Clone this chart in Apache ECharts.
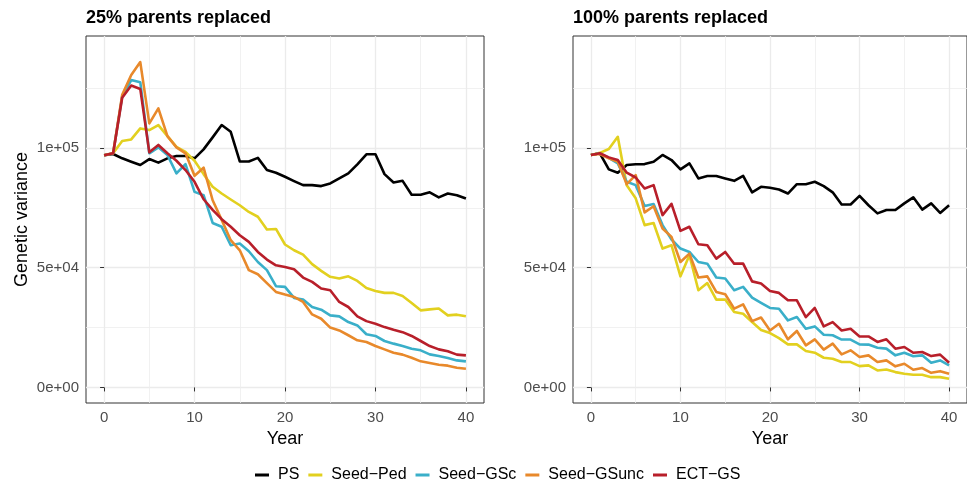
<!DOCTYPE html>
<html><head><meta charset="utf-8">
<script src="https://cdn.jsdelivr.net/npm/echarts@6/dist/echarts.min.js"></script>
<style>html,body{margin:0;padding:0;background:#fff}#c{width:967px;height:484px}</style>
</head><body><div id="c"></div>
<script>
const years = [0,1,2,3,4,5,6,7,8,9,10,11,12,13,14,15,16,17,18,19,20,21,22,23,24,25,26,27,28,29,30,31,32,33,34,35,36,37,38,39,40];
const seriesNames = ['PS', 'Seed\u2212Ped', 'Seed\u2212GSc', 'Seed\u2212GSunc', 'ECT\u2212GS'];
const panelTitles = ['25% parents replaced', '100% parents replaced'];
const xTickValues = [0, 10, 20, 30, 40];
const xMinorValues = [5, 15, 25, 35];
const yTickValues = [0, 50000, 100000];
const yTickLabels = ['0e+00', '5e+04', '1e+05'];
const yMinorValues = [25000, 75000, 125000];

// 25% parents replaced
const ps25 = [97000,97500,95700,94300,92900,95400,93900,95700,96650,96650,95700,99450,104460,109600,106800,94400,94400,95900,90800,89700,88000,86200,84500,84500,84100,85200,87300,89400,93200,97400,97400,89100,85600,86300,80500,80500,81500,79400,81000,80300,78900];
const ped25 = [97000,97800,102900,103600,108200,107500,109600,105000,100500,98400,94700,89100,83800,81000,78500,76100,73300,71300,66000,66200,59700,57300,55500,51500,48700,46200,45500,46400,44500,41500,40300,39500,39500,38200,35300,32200,32600,33000,30100,30400,29700];
const gsc25 = [97000,97800,121500,128400,127500,97800,100300,97100,89400,93300,81700,80300,68700,67100,59400,60100,56900,52400,49000,42300,42000,37400,36700,33600,32500,30100,29700,27300,25900,22200,21500,19400,18300,17300,16200,15500,13800,13100,12300,11300,10900];
const unc25 = [97000,97800,122200,130500,135900,110300,116600,105000,100300,97800,88400,91800,78200,70000,61500,57300,49000,47300,43600,39900,38800,37800,35700,30500,28700,25000,23800,21800,19700,19000,17300,15900,14500,13700,12400,10900,10200,9500,9100,8200,7800];
const ect25 = [97000,97800,121000,126100,124700,98200,101300,97800,94700,90800,85900,78600,74200,70300,67100,63600,60800,56600,53400,51000,50300,49400,45900,44100,41300,40600,35700,33600,29700,27700,26600,25200,24100,23100,21500,19400,17300,15900,15100,13700,13400];

// 100% parents replaced
const ps100 = [97100,97800,91100,89700,92900,93200,93300,94300,97100,95000,91100,93600,87300,88300,88300,87300,86300,88400,81500,83800,83400,82700,81000,84900,84900,85900,84100,81500,76400,76400,80000,76100,72700,74100,74100,76900,79400,74300,76900,72900,76100];
const ped100 = [97100,98000,99600,104700,84500,79000,67800,68700,58000,59400,46400,55200,40600,43600,36700,36700,31500,30800,27300,24000,22700,20600,18000,18000,15200,14500,12400,12000,10600,10600,8900,9200,7100,7500,6400,5700,5300,5300,4300,4300,3600];
const gsc100 = [97100,97800,95900,93600,85900,84500,75800,76600,67800,61800,58000,56600,52400,51700,45900,45500,40600,42000,37500,35300,33200,32900,28000,29400,24500,25500,22000,21800,20000,20000,18000,17900,16600,16200,13400,14500,13000,13400,10300,11300,9200];
const unc100 = [97100,97500,95700,94300,84900,88700,73100,75700,66400,62900,52400,55900,45900,46400,39900,38900,32900,34700,27700,29200,23800,26600,20100,23600,17600,20100,15800,18300,13800,15500,12700,13400,10600,11300,8800,9900,7400,8100,6100,6800,5700];
const ect100 = [97100,97800,96100,95000,89700,87700,83100,84500,72000,76700,65400,67100,59800,59400,53800,56600,51700,51700,44300,43400,40300,39500,36400,36400,29400,33200,25500,27300,23800,24500,21300,21300,19000,20100,16200,16900,14500,14800,13100,13700,10300];

const colors = ['#000000', '#E2D01F', '#3AAFC9', '#E8892B', '#B81F2A'];
const FONT = "'Liberation Sans', Arial, Helvetica, sans-serif";
const panels = [[ps25, ped25, gsc25, unc25, ect25], [ps100, ped100, gsc100, unc100, ect100]];
const gridLefts = [86, 573];
const Y_MIN = -6500, Y_MAX = 146800, X_MIN = -2, X_MAX = 42;

const grids = [], xAxes = [], yAxes = [], series = [], titles = [];
panels.forEach((p, gi) => {
  grids.push({left: gridLefts[gi], top: 36, width: 398, height: 367, show: true,
    backgroundColor: '#fff', borderColor: '#333333', borderWidth: 1, containLabel: false});
  titles.push({text: panelTitles[gi], left: gridLefts[gi] - 5, top: 4,
    textStyle: {fontFamily: FONT, fontSize: 18, fontWeight: 'bold', color: '#000'}});
  // minor x
  xAxes.push({type: 'value', gridIndex: gi, position: 'top', min: X_MIN, max: X_MAX,
    axisLine: {show: false}, axisLabel: {show: false},
    axisTick: {show: false, customValues: xMinorValues},
    splitLine: {show: true, lineStyle: {color: '#EDEDED', width: 0.8}}});
  // major x
  xAxes.push({type: 'value', gridIndex: gi, position: 'bottom', min: X_MIN, max: X_MAX,
    name: 'Year', nameLocation: 'middle', nameGap: 24,
    nameTextStyle: {fontFamily: FONT, fontSize: 18, color: '#000'},
    axisLine: {show: false},
    axisTick: {show: true, length: 4, customValues: xTickValues, lineStyle: {color: '#333333', width: 1}},
    axisLabel: {show: true, customValues: xTickValues, margin: 7, fontFamily: FONT, fontSize: 15, color: '#4D4D4D'},
    splitLine: {show: true, lineStyle: {color: '#EBEBEB', width: 1.3}}});
  // minor y
  yAxes.push({type: 'value', gridIndex: gi, position: 'right', min: Y_MIN, max: Y_MAX,
    axisLine: {show: false}, axisLabel: {show: false},
    axisTick: {show: false, customValues: yMinorValues},
    splitLine: {show: true, lineStyle: {color: '#EDEDED', width: 0.8}}});
  // major y
  yAxes.push({type: 'value', gridIndex: gi, position: 'left', min: Y_MIN, max: Y_MAX,
    name: gi === 0 ? 'Genetic variance' : '', nameLocation: 'middle', nameGap: 55, nameRotate: 90,
    nameTextStyle: {fontFamily: FONT, fontSize: 18, color: '#000'},
    axisLine: {show: false},
    axisTick: {show: true, length: 4, customValues: yTickValues, lineStyle: {color: '#333333', width: 1}},
    axisLabel: {show: true, customValues: yTickValues, margin: 7, fontFamily: FONT, fontSize: 15, color: '#4D4D4D',
      formatter: v => { const i = yTickValues.indexOf(v); return i >= 0 ? yTickLabels[i] : ''; }},
    splitLine: {show: true, lineStyle: {color: '#EBEBEB', width: 1.3}}});
  p.forEach((vals, si) => {
    series.push({type: 'line', name: seriesNames[si], xAxisIndex: gi * 2 + 1, yAxisIndex: gi * 2 + 1,
      data: years.map((y, k) => [y, vals[k]]), showSymbol: false, symbol: 'none',
      lineStyle: {color: colors[si], width: 2.6, join: 'round'}, itemStyle: {color: colors[si]},
      z: 3 + si, animation: false});
  });
});

const chart = echarts.init(document.getElementById('c'), null, {renderer: 'canvas'});
chart.setOption({
  backgroundColor: '#fff',
  animation: false,
  title: titles,
  grid: grids,
  xAxis: xAxes,
  yAxis: yAxes,
  legend: {data: seriesNames, left: 250, top: 462, icon: 'rect', itemWidth: 14, itemHeight: 3, itemGap: 9,
    textStyle: {fontFamily: FONT, fontSize: 16, color: '#000', padding: [0, 0, 0, 4]}},
  series: series
});
</script></body></html>
